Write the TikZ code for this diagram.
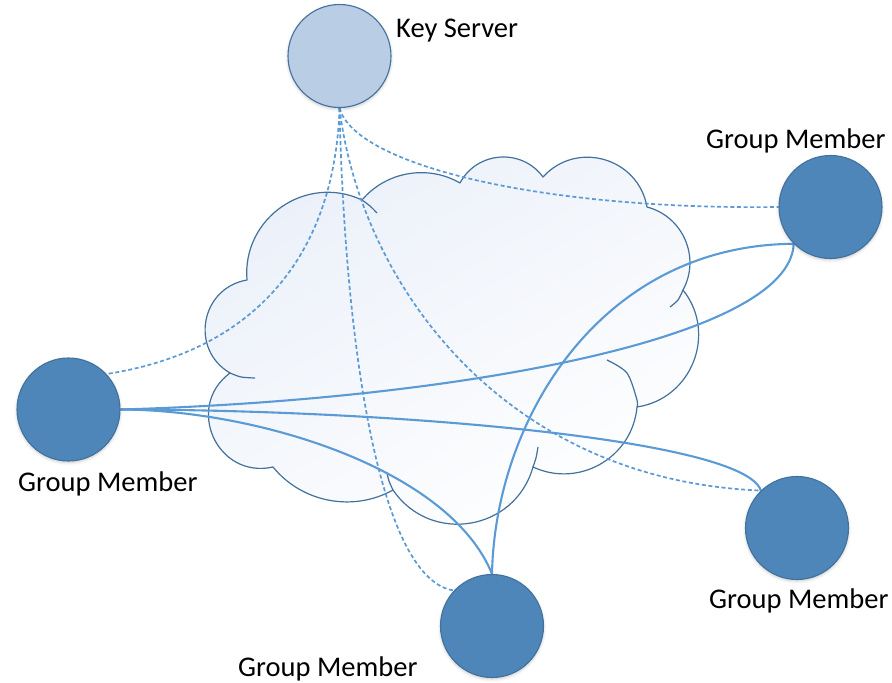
\documentclass[tikz,border=0pt]{standalone}
\usepackage{fontspec}
\setmainfont{Carlito}
\usetikzlibrary{shadows.blur}

\definecolor{linkblue}{HTML}{5B9BD5}
\definecolor{edgeblue}{HTML}{41719C}
\definecolor{memberfill}{HTML}{4E86B9}
\definecolor{serverfill}{HTML}{B9CDE5}
\definecolor{cloudtint}{HTML}{EBF0F9}

\pgfdeclarelayer{cloudlayer}
\pgfdeclarelayer{linklayer}
\pgfsetlayers{cloudlayer,linklayer,main}

\tikzset{
  host/.style={circle, minimum size=103pt, inner sep=0pt, draw=edgeblue, line width=1.1pt,
    blur shadow={shadow xshift=0pt, shadow yshift=-1.5pt, shadow blur radius=3pt, shadow opacity=22}},
  member/.style={host, fill=memberfill},
  server/.style={host, fill=serverfill},
  hostlabel/.style={anchor=base west, inner sep=0pt, font=\fontsize{28.5}{33}\selectfont},
  datalink/.style={draw=linkblue, line width=2.1pt},
  keylink/.style={draw=linkblue, line width=1.7pt, dash pattern=on 4pt off 2.6pt},
  cloudline/.style={draw=edgeblue, line width=1.2pt, line join=round},
}

\begin{document}
\begin{tikzpicture}[x=1pt,y=-1pt]
\useasboundingbox (0,0) rectangle (892,683);

% hosts
\node[server] (ks)   at (339.5,56)  {};
\node[member] (gmL)  at (68.5,409.5) {};
\node[member] (gmUR) at (830.5,207) {};
\node[member] (gmLR) at (797,528)   {};
\node[member] (gmB)  at (492,626)   {};

% labels
\node[hostlabel] (ksl)   at (396,37)  {Key Server};
\node[hostlabel] (gmLl)  at (18,491)  {Group Member};
\node[hostlabel] (gmURl) at (706,148) {Group Member};
\node[hostlabel] (gmLRl) at (709,608) {Group Member};
\node[hostlabel] (gmBl)  at (238,676) {Group Member};

% network cloud: one arc per lobe, running clockwise
\begin{pgfonlayer}{cloudlayer}
\draw[cloudline, top color=cloudtint, bottom color=white, shading angle=30]
  (247,280) to[bend left=60, looseness=1.13] (362,200)
            to[bend left=40, looseness=0.96] (460,183)
            to[bend left=58, looseness=1.11] (543,177)
            to[bend left=64, looseness=1.18] (647,207)
            to[bend left=52, looseness=1.05] (683,290)
            to[bend left=60, looseness=1.13] (637,407)
            to[bend left=55, looseness=1.08] (533,467)
            to[bend left=65, looseness=1.20] (393,490)
            to[bend left=40, looseness=0.96] (273,467)
            to[bend left=78, looseness=1.41] (230,373)
            to[bend left=70, looseness=1.27] (247,280)
  -- cycle;
% inner folds of the cloud
\draw[cloudline] plot[smooth] coordinates {(362,200) (370,206) (377,213)};
\draw[cloudline] plot[smooth] coordinates {(683,290) (678,300) (670,307)};
\draw[cloudline] plot[smooth] coordinates {(607,360) (627,373) (637,400) (637,407)};
\draw[cloudline] plot[smooth] coordinates {(538,447) (536,458) (533,467)};
\draw[cloudline] plot[smooth] coordinates {(393,490) (389,481) (387,473)};
\draw[cloudline] plot[smooth] coordinates {(230,373) (241,377) (255,378)};
\end{pgfonlayer}

% key distribution links
\begin{pgfonlayer}{linklayer}
\draw[keylink] (ks.south) .. controls (335,250) and (260,350) .. (gmL.43);
\draw[keylink] (ks.south) .. controls (345,350) and (380,580) .. (gmB.137);
\draw[keylink] (ks.south) .. controls (360,280) and (500,480) .. (gmLR.134);
\draw[keylink] (ks.south) .. controls (355,165) and (540,210) .. (gmUR.west);

% group data links
\draw[datalink] (gmL.east) .. controls (450,400) and (790,340) .. (gmUR.225);
\draw[datalink] (gmL.east) .. controls (400,410) and (745,440) .. (gmLR.134);
\draw[datalink] (gmL.east) .. controls (260,410) and (450,470) .. (gmB.north);
\draw[datalink] (gmB.north) .. controls (495,420) and (600,245) .. (gmUR.225);
\end{pgfonlayer}
\end{tikzpicture}
\end{document}
